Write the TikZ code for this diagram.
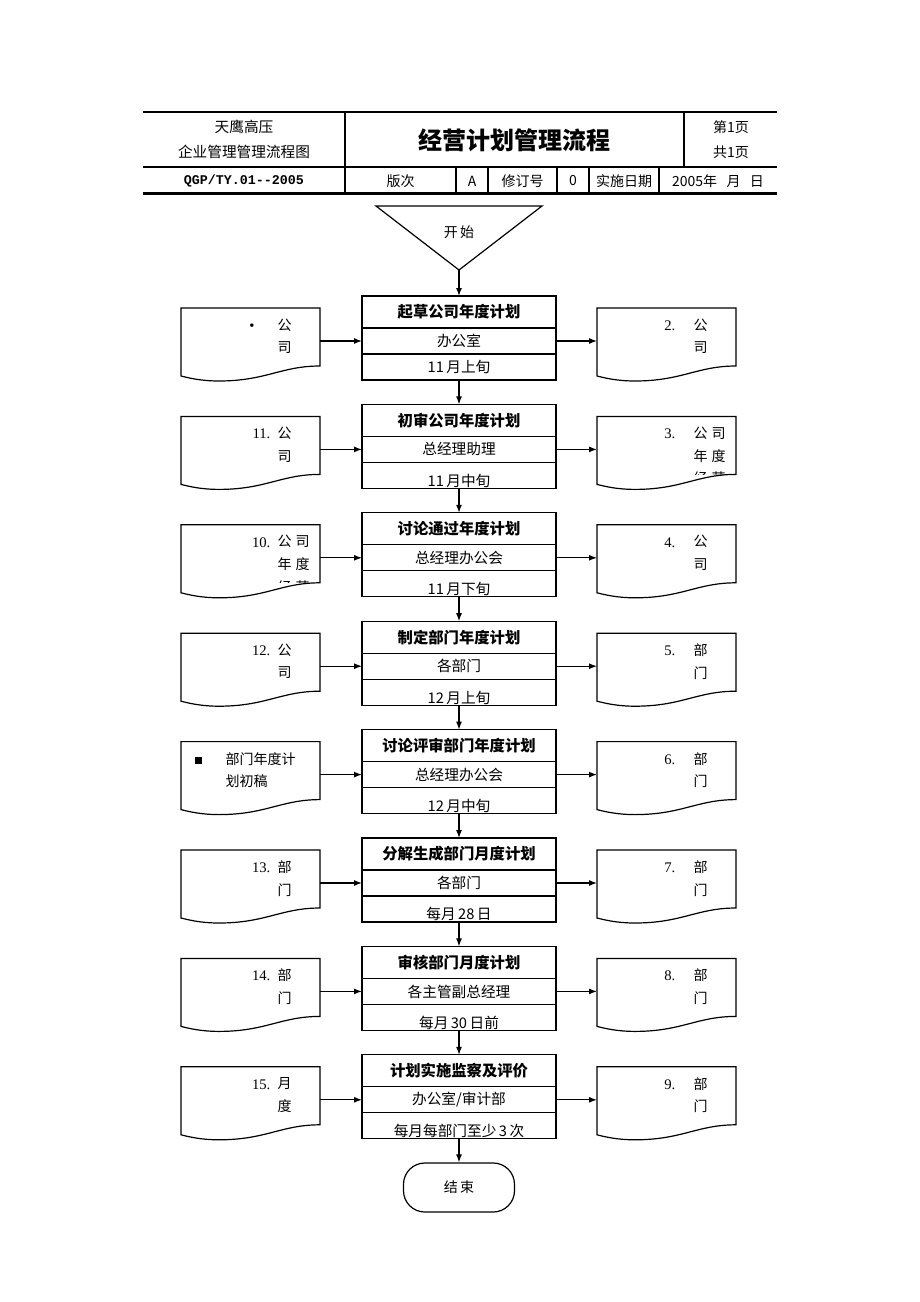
\documentclass[tikz,border=0pt]{standalone}
\usepackage{fontspec}
\setmainfont{Liberation Serif}
\newfontfamily\cjk{Noto Sans CJK SC}
\newfontfamily\monofont{Liberation Mono}
\usetikzlibrary{shapes,arrows,arrows.meta,positioning}

\begin{document}
\begin{tikzpicture}[x=0.75pt,y=-0.75pt,>={Latex[length=6pt,width=4.5pt]},line width=0.9pt,
    cell/.style={draw, minimum width=145.5pt, inner sep=0pt, outer sep=0pt},
    titlebox/.style={cell, minimum height=24pt, font=\cjk\bfseries\fontsize{11.5}{13}\selectfont},
    whobox/.style={cell, minimum height=19.5pt, font=\cjk\fontsize{11}{13}\selectfont},
    whenbox/.style={cell, minimum height=19.5pt},
    docarea/.style={minimum width=104.25pt, minimum height=49.5pt, inner sep=0pt, outer sep=0pt},
    doctext/.style={font=\cjk\fontsize{10.5}{17}\selectfont, align=left, anchor=north west, inner sep=0pt},
    docnum/.style={font=\rmfamily\fontsize{11}{13}\selectfont, anchor=base east, inner sep=0pt},
    headtext/.style={font=\cjk\fontsize{10.5}{18.75}\selectfont, align=center}]

  \useasboundingbox (0,0) rectangle (920,1302);

  % header table
  \draw[line width=1.4pt] (143,112) -- (777,112);
  \draw[line width=1.5pt] (143,167) -- (777,167);
  \draw[line width=1.8pt] (143,193.5) -- (777,193.5);
  \draw (345,112) -- (345,193);
  \draw (684,112) -- (684,167);
  \foreach \x in {456,488,557,589,659}
    \draw (\x,167) -- (\x,193);

  \node[headtext, font=\cjk\fontsize{11}{18.75}\selectfont] (corp) at (244,139.5) {天鹰高压\\企业管理管理流程图};
  \node[font=\cjk\bfseries\fontsize{18}{20}\selectfont] (title) at (514,140) {经营计划管理流程};
  \node[headtext] (page) at (731,139.5) {第1页\\共1页};
  \node[font=\monofont\bfseries\fontsize{10}{12}\selectfont] (code) at (244,181) {QGP/TY.01{-}{-}2005};
  \node[headtext] (ver) at (400.5,181) {版次};
  \node[headtext] (vera) at (472,181) {A};
  \node[headtext] (rev) at (522.5,181) {修订号};
  \node[headtext] (rev0) at (573,181) {0};
  \node[headtext] (date) at (624,181) {实施日期};
  \node[headtext] (dateval) at (718,181) {2005年\hspace{7pt}月\hspace{7pt}日};

  % start
  \draw (376,206) -- (542,206) -- (459,270) -- cycle;
  \coordinate (startpt) at (459,270);
  \node[headtext] (start) at (459,232) {开\,始};

  % process steps: title, who, when
  \foreach \i/\what/\who/\when/\sh in {
      1/起草公司年度计划/办公室/11\,月上旬/0pt,
      2/初审公司年度计划/总经理助理/11\,月中旬/-4pt,
      3/讨论通过年度计划/总经理办公会/11\,月下旬/-4pt,
      4/制定部门年度计划/各部门/12\,月上旬/-4pt,
      5/讨论评审部门年度计划/总经理办公会/12\,月中旬/-4pt,
      6/分解生成部门月度计划/各部门/每月\,28\,日/-4pt,
      7/审核部门月度计划/各主管副总经理/每月\,30\,日前/-4pt,
      8/计划实施监察及评价/{办公室/审计部}/每月每部门至少\,3\,次/-4pt}
  {
    \pgfmathsetmacro\rowtop{296+108.4*(\i-1)}
    \node[titlebox] (t\i) at (459,\rowtop+16) {\what};
    \node[whobox, below=0pt of t\i] (m\i) {\who};
    \node[whenbox, below=0pt of m\i,
      path picture={\node[anchor=center, draw=none, minimum width=0pt, minimum height=0pt,
          font=\cjk\fontsize{11}{13}\selectfont]
        at ([yshift=\sh]path picture bounding box.center) {\when};}] (w\i) {};
  }

  % end
  \node[draw, rounded corners=16pt, minimum width=83.25pt, minimum height=36.75pt,
    font=\cjk\fontsize{10.5}{13}\selectfont] (stop) at (459,1187.5) {结\,束};

  % arrows down the middle
  \draw[->] (startpt) -- (t1);
  \foreach \i [evaluate=\i as \j using int(\i+1)] in {1,...,7}
    \draw[->] (w\i) -- (t\j);
  \draw[->] (w8) -- (stop);

  % documents on the left
  \foreach \i/\num/\nx/\body/\bx in {
      1/\textbullet/255/{公\\司}/277,
      2/11./271/{公\\司}/277,
      3/10./271/{公\hspace{3pt}司\\年\hspace{3pt}度\\经\hspace{3pt}营}/277,
      4/12./271/{公\\司}/277,
      5/{\rule{5.5pt}{5.5pt}}/203/{部门年度计\\划初稿}/225,
      6/13./271/{部\\门}/277,
      7/14./271/{部\\门}/277,
      8/15./271/{月\\度}/277}
  {
    \pgfmathsetmacro\D{308+108.4*(\i-1)}
    \draw (181,\D) -- (320,\D) -- (320,\D+58) .. controls (281,\D+58) and (266,\D+73) .. (219,\D+73)
      .. controls (201,\D+73) and (189,\D+70) .. (181,\D+68) -- cycle;
    \node[docarea] (ld\i) at (250.5,\D+33) {};
    \begin{scope}
      \clip (181,\D) rectangle (320,\D+58);
      \node[docnum] (ln\i) at (\nx,\D+22.5) {\num};
      \node[doctext] (lt\i) at (\bx,\D+10) {\body};
    \end{scope}
    \draw[->] (ld\i) -- (m\i);
  }

  % documents on the right
  \foreach \i/\num/\body in {
      1/2./{公\\司},
      2/3./{公\hspace{3pt}司\\年\hspace{3pt}度\\经\hspace{3pt}营},
      3/4./{公\\司},
      4/5./{部\\门},
      5/6./{部\\门},
      6/7./{部\\门},
      7/8./{部\\门},
      8/9./{部\\门}}
  {
    \pgfmathsetmacro\D{308+108.4*(\i-1)}
    \draw (597,\D) -- (736,\D) -- (736,\D+58) .. controls (697,\D+58) and (682,\D+73) .. (635,\D+73)
      .. controls (617,\D+73) and (605,\D+70) .. (597,\D+68) -- cycle;
    \node[docarea] (rd\i) at (666.5,\D+33) {};
    \begin{scope}
      \clip (597,\D) rectangle (736,\D+58);
      \node[docnum] (rn\i) at (676,\D+22.5) {\num};
      \node[doctext] (rt\i) at (693,\D+10) {\body};
    \end{scope}
    \draw[->] (m\i) -- (rd\i);
  }
\end{tikzpicture}
\end{document}
